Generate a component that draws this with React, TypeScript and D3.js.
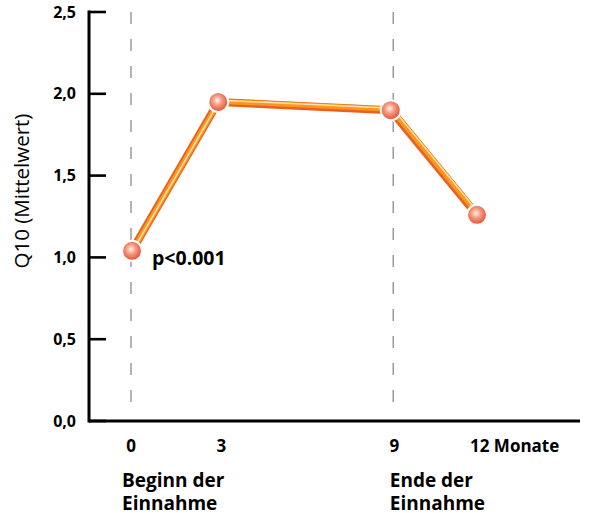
import { scaleLinear, line } from "d3";

const MONTHS = [0, 3, 9, 12];
const Q10 = [1.04, 1.95, 1.9, 1.26];
const Y_TICKS = [0, 0.5, 1, 1.5, 2, 2.5];
const X_LABELS = ["0", "3", "9", "12 Monate"];
const MARKERS = [
  { month: 0, label: ["Beginn der", "Einnahme"] },
  { month: 9, label: ["Ende der", "Einnahme"] },
];
const P_VALUE = "p<0.001";

const W = 592;
const H = 513;
const FONT = "'Open Sans', 'DejaVu Sans', sans-serif";

const x = scaleLinear().domain([0, 12]).range([132, 477]);
const y = scaleLinear().domain([0, 2.5]).range([421, 12]);

const AXIS_X = 89;
// small nudges to sit labels as in the original artwork
const LABEL_NUDGE = [-1, 3, 3.5, -7];

export default function App() {
  const pts = MONTHS.map((m, i) => [x(m), y(Q10[i])] as [number, number]);
  const path = line()(pts) ?? "";

  return (
    <svg
      width={W}
      height={H}
      style={{ position: "absolute", left: 0, top: 0, background: "#fff" }}
      fontFamily={FONT}
    >
      <defs>
        <radialGradient id="dot" cx="45%" cy="42%" r="60%">
          <stop offset="0%" stopColor="#fff1ec" />
          <stop offset="40%" stopColor="#f59a80" />
          <stop offset="100%" stopColor="#e2472a" />
        </radialGradient>
      </defs>

      {/* dashed markers */}
      {MARKERS.map((mk) => (
        <line
          key={mk.month}
          x1={x(mk.month) + (mk.month === 9 ? 2.5 : -1)}
          x2={x(mk.month) + (mk.month === 9 ? 2.5 : -1)}
          y1={12}
          y2={410}
          stroke="#9a9a9a"
          strokeWidth={1.5}
          strokeDasharray="12 15"
        />
      ))}

      {/* axes */}
      <line x1={AXIS_X} x2={AXIS_X} y1={y(2.5) - 1.5} y2={y(0) + 1.5} stroke="#000" strokeWidth={3} />
      <line x1={AXIS_X} x2={580} y1={y(0)} y2={y(0)} stroke="#000" strokeWidth={3} />
      {Y_TICKS.map((t) => (
        <g key={t}>
          <line x1={AXIS_X} x2={AXIS_X + 17} y1={y(t)} y2={y(t)} stroke="#000" strokeWidth={2.6} />
          <text
            x={76}
            y={y(t) + 5.5}
            textAnchor="end"
            fontSize={16}
            fontWeight="bold"
          >
            {t.toFixed(1).replace(".", ",")}
          </text>
        </g>
      ))}

      <text
        transform="translate(29, 191) rotate(-90)"
        textAnchor="middle"
        fontSize={20.5}
      >
        Q10 (Mittelwert)
      </text>

      {/* x labels */}
      {MONTHS.map((m, i) => (
        <text
          key={m}
          x={x(m) + LABEL_NUDGE[i]}
          y={452}
          textAnchor={i === 3 ? "start" : "middle"}
          fontSize={17}
          fontWeight="bold"
        >
          {X_LABELS[i]}
        </text>
      ))}
      {MARKERS.map((mk) => (
        <text key={mk.month} fontSize={19} fontWeight="bold">
          {mk.label.map((l, j) => (
            <tspan key={j} x={x(mk.month) + (mk.month === 9 ? -1 : -10)} y={487 + j * 23}>
              {l}
            </tspan>
          ))}
        </text>
      ))}

      {/* line */}
      <path d={path} fill="none" stroke="#fff" strokeWidth={11} strokeLinejoin="round" />
      <path d={path} fill="none" stroke="#ec5f22" strokeWidth={8} strokeLinejoin="round" />
      <path
        d={path}
        fill="none"
        stroke="#f8981e"
        strokeWidth={5}
        strokeLinejoin="round"
        transform="translate(0.8,-0.8)"
      />
      <path
        d={path}
        fill="none"
        stroke="#ffe2a6"
        strokeWidth={1.5}
        strokeLinejoin="round"
        transform="translate(1.8,-1.8)"
      />

      {pts.map(([px, py], i) => (
        <circle key={i} cx={px} cy={py} r={10} fill="url(#dot)" stroke="#fff" strokeWidth={2} />
      ))}

      <text x={152} y={265} fontSize={19.5} fontWeight="bold">
        {P_VALUE}
      </text>
    </svg>
  );
}
